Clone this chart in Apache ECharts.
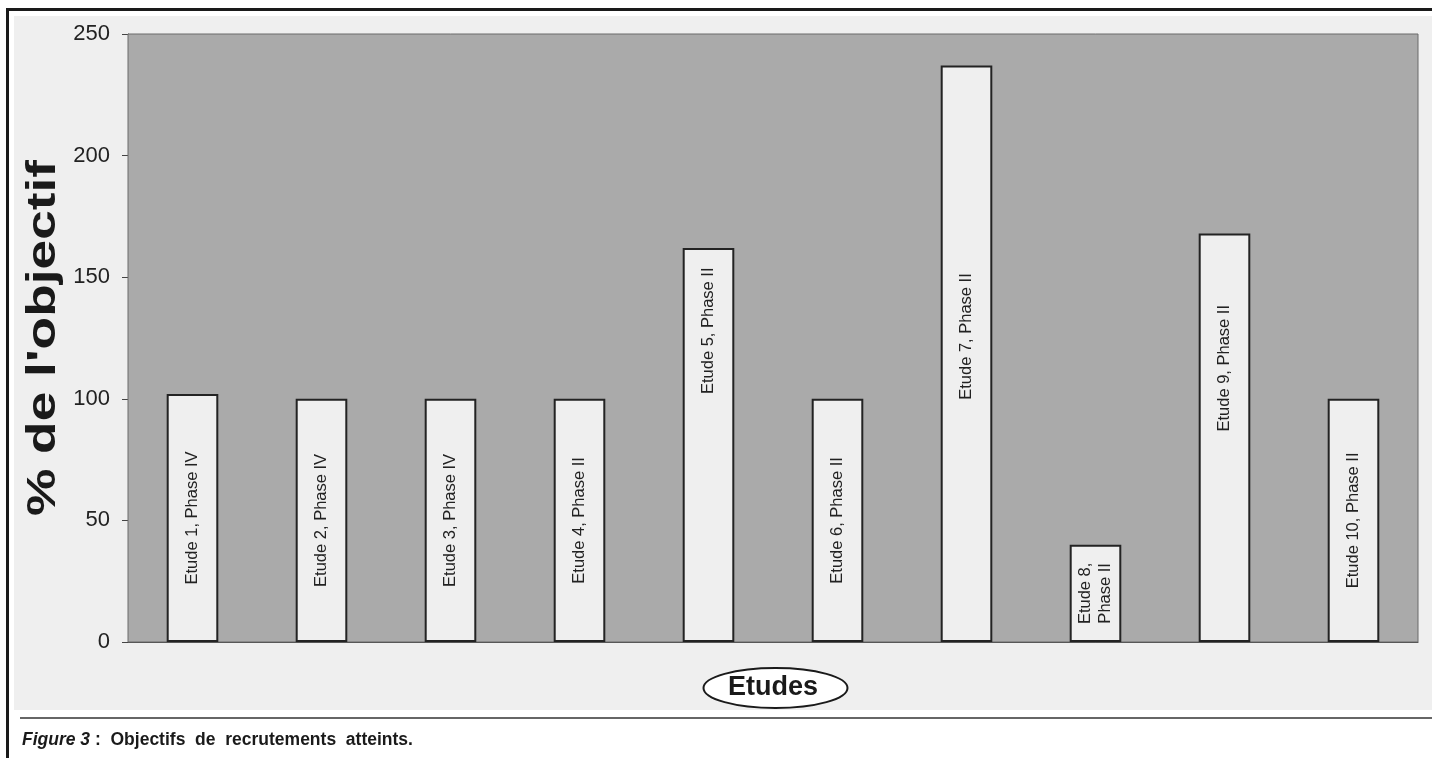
<!DOCTYPE html>
<html>
<head>
<meta charset="utf-8">
<script src="https://cdn.jsdelivr.net/npm/echarts@6/dist/echarts.min.js"></script>
<style>
  html, body { margin: 0; padding: 0; background: #ffffff; }
  #chart { width: 1432px; height: 758px; }
</style>
</head>
<body>
<div id="chart"></div>
<script>
// ---- data ----
const categories = [
  'Etude 1, Phase IV', 'Etude 2, Phase IV', 'Etude 3, Phase IV', 'Etude 4, Phase II',
  'Etude 5, Phase II', 'Etude 6, Phase II', 'Etude 7, Phase II', 'Etude 8, Phase II',
  'Etude 9, Phase II', 'Etude 10, Phase II'
];
const values = [102, 100, 100, 100, 162, 100, 237, 40, 168, 100];
const yTicks = [0, 50, 100, 150, 200, 250];
const yAxisTitle = "% de l'objectif";
const xAxisTitle = 'Etudes';
const captionFig = 'Figure 3';
const captionText = ' : Objectifs de recrutements atteints.';

// ---- styles (label placement inside each bar, as fraction of bar height from its top) ----
const labelAnchor = ['50%', '50%', '50%', '50%', '21%', '50%', '47%', '50%', '33%', '50%'];

const FONT = 'Liberation Sans, Arial, sans-serif';
const chart = echarts.init(document.getElementById('chart'), null, { renderer: 'canvas' });

const option = {
  animation: false,
  backgroundColor: 'transparent',
  grid: {
    left: 128, right: 14, top: 34, bottom: 116,
    show: true,
    backgroundColor: '#aaaaaa',
    borderColor: '#6a6a6a',
    borderWidth: 1,
    z: 2
  },
  xAxis: {
    type: 'category',
    data: categories,
    axisLine: { show: true, lineStyle: { color: '#444', width: 1 } },
    axisTick: { show: false },
    axisLabel: { show: false },
    name: xAxisTitle,
    nameLocation: 'middle',
    nameGap: 32,
    nameTextStyle: { fontFamily: FONT, fontWeight: 'bold', fontSize: 27, color: '#1a1a1a' }
  },
  yAxis: {
    type: 'value',
    min: yTicks[0],
    max: yTicks[yTicks.length - 1],
    interval: yTicks[1] - yTicks[0],
    axisLine: { show: true, lineStyle: { color: '#444', width: 1 } },
    axisTick: { show: true, length: 6, lineStyle: { color: '#444' } },
    axisLabel: { fontFamily: FONT, fontSize: 22, color: '#222', margin: 18 },
    splitLine: { show: true, lineStyle: { color: '#5a5a5a', width: 1 } }
  },
  series: [{
    type: 'bar',
    barWidth: '40%',
    z: 3,
    data: values.map((v, i) => ({
      value: v,
      label: { position: ['50%', labelAnchor[i]] }
    })),
    itemStyle: { color: '#efefef', borderColor: '#232323', borderWidth: 2 },
    label: {
      show: true,
      rotate: 90,
      align: 'center',
      verticalAlign: 'middle',
      fontFamily: FONT,
      fontSize: 16.5,
      color: '#222',
      lineHeight: 20,
      formatter: (p) => {
        const name = categories[p.dataIndex];
        return p.value < 50 ? name.replace(', ', ',\n') : name;
      }
    }
  }],
  graphic: [
    { type: 'rect', z: -100, silent: true, shape: { x: 14, y: 16, width: 1418, height: 694 }, style: { fill: '#efefef' } },
    { type: 'ellipse', z: -1, silent: true, shape: { cx: 775.5, cy: 688, rx: 72, ry: 20 }, style: { fill: '#ffffff', stroke: '#1a1a1a', lineWidth: 2 } },
    { type: 'line', z: 100, silent: true, shape: { x1: 7.5, y1: 8, x2: 7.5, y2: 758 }, style: { stroke: '#1a1a1a', lineWidth: 3 } },
    { type: 'line', z: 100, silent: true, shape: { x1: 6, y1: 9.5, x2: 1432, y2: 9.5 }, style: { stroke: '#1a1a1a', lineWidth: 3 } },
    { type: 'line', z: 100, silent: true, shape: { x1: 20, y1: 718, x2: 1432, y2: 718 }, style: { stroke: '#333', lineWidth: 1.5 } },
    {
      type: 'text', z: 110, silent: true,
      x: 44, y: 338, rotation: Math.PI / 2, scaleX: 1.3, scaleY: 1,
      style: {
        text: yAxisTitle,
        align: 'center', verticalAlign: 'middle',
        fontFamily: FONT, fontWeight: 'bold', fontSize: 41, fill: '#1a1a1a'
      }
    },
    {
      type: 'text', z: 110, silent: true, left: 22, top: 731,
      style: {
        text: '{f|' + captionFig + '}{c|' + captionText.replace(/ /g, '  ').replace('  :', ' :') + '}',
        rich: {
          f: { fontFamily: FONT, fontWeight: 'bold', fontStyle: 'italic', fontSize: 17.5, fill: '#1a1a1a' },
          c: { fontFamily: FONT, fontWeight: 'bold', fontSize: 17.5, fill: '#1a1a1a' }
        }
      }
    }
  ]
};
chart.setOption(option);
</script>
</body>
</html>
